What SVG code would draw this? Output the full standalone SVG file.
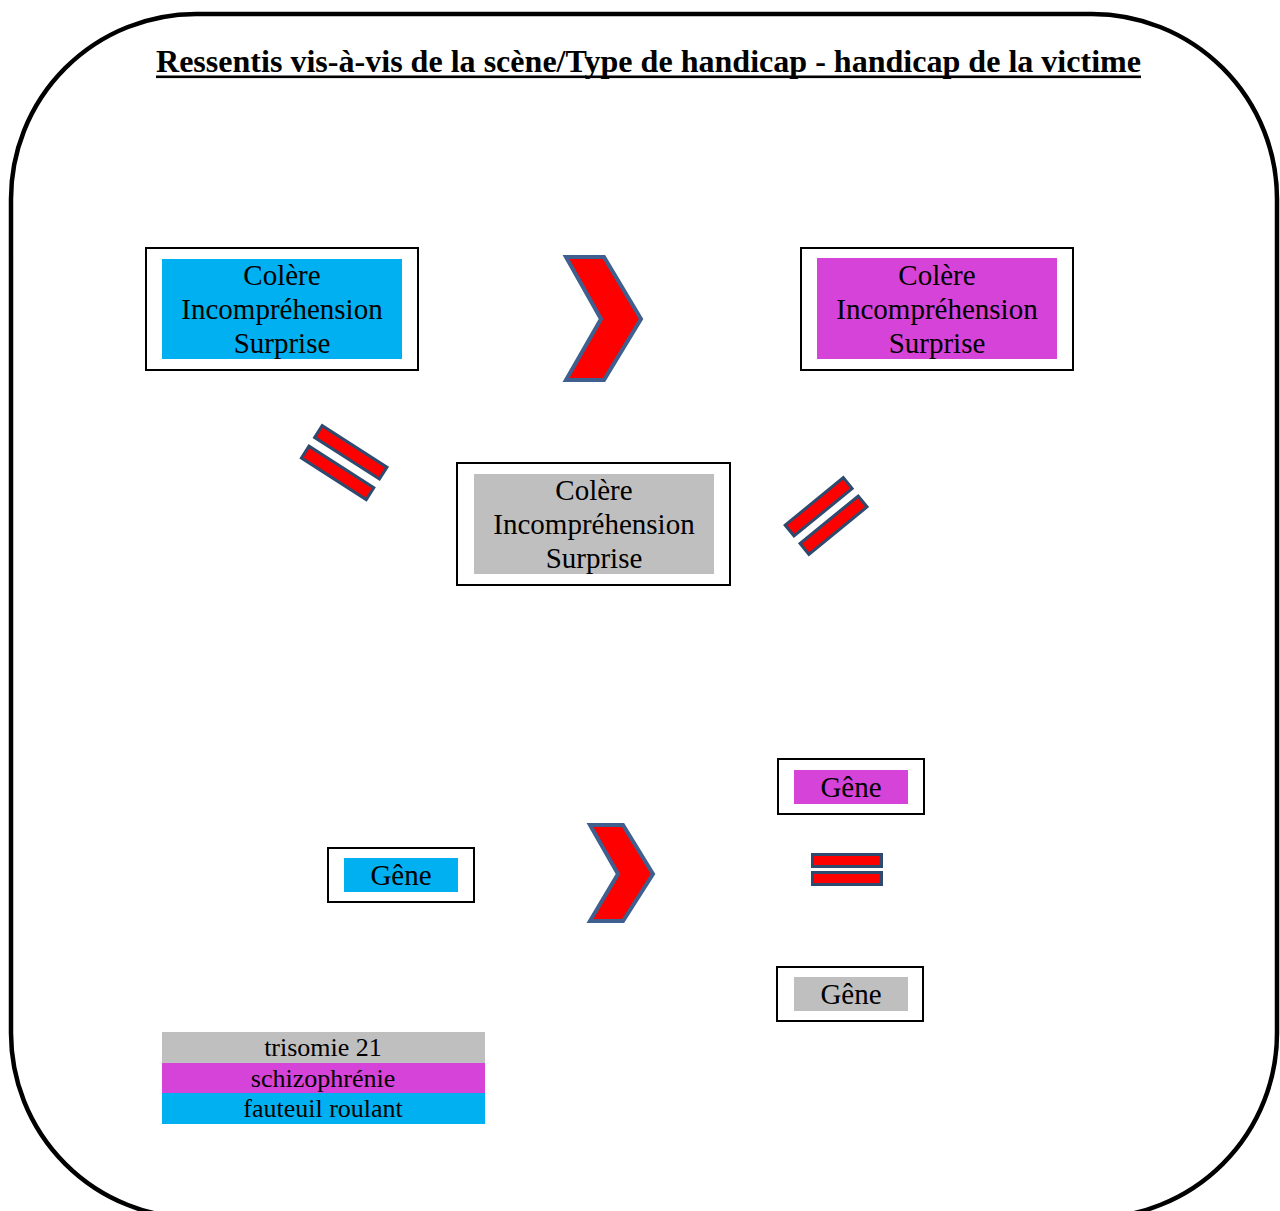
<svg xmlns="http://www.w3.org/2000/svg" width="1280" height="1211" viewBox="0 0 1280 1211">
<style>
text{font-family:"Liberation Serif","Times New Roman",Times,serif;fill:#000;text-anchor:middle}
.t{font-size:29px}
.l{font-size:26px}
.frame{fill:#fff;stroke:#000;stroke-width:2}
.cy{fill:#00B0F0}
.mg{fill:#D643D9}
.gr{fill:#BFBFBF}
.sym{fill:#FF0000;stroke:#3F5F8F;stroke-width:4;stroke-linejoin:miter}
.bar{fill:#FF0000;stroke:#2F4A6F;stroke-width:3}
</style>
<rect width="1280" height="1211" fill="#fff"/>
<rect x="11" y="14" width="1266" height="1204" rx="185" ry="185" fill="#fff" stroke="#000" stroke-width="4.5"/>
<g id="title">
<text x="648.5" y="72" style="font-size:32px;font-weight:bold" textLength="985" lengthAdjust="spacingAndGlyphs">Ressentis vis-à-vis de la scène/Type de handicap - handicap de la victime</text>
<rect x="156" y="75.5" width="985" height="2.6" fill="#000"/>
</g>
<g id="node-top-left">
<rect class="frame" x="146" y="248" width="272" height="122"/>
<rect class="cy" x="162" y="259" width="240" height="100"/>
<text class="t" x="282" y="285">Colère</text>
<text class="t" x="282" y="319">Incompréhension</text>
<text class="t" x="282" y="353">Surprise</text>
</g>
<g id="node-top-right">
<rect class="frame" x="801" y="248" width="272" height="122"/>
<rect class="mg" x="817" y="258" width="240" height="101"/>
<text class="t" x="937" y="285">Colère</text>
<text class="t" x="937" y="319">Incompréhension</text>
<text class="t" x="937" y="353">Surprise</text>
</g>
<g id="node-center">
<rect class="frame" x="457" y="463" width="273" height="122"/>
<rect class="gr" x="474" y="474" width="240" height="100"/>
<text class="t" x="594" y="500">Colère</text>
<text class="t" x="594" y="534">Incompréhension</text>
<text class="t" x="594" y="568">Surprise</text>
</g>
<g id="node-gene-left">
<rect class="frame" x="328" y="848" width="146" height="54"/>
<rect class="cy" x="344" y="858" width="114" height="34"/>
<text class="t" x="401" y="885">Gêne</text>
</g>
<g id="node-gene-top-right">
<rect class="frame" x="778" y="759" width="146" height="55"/>
<rect class="mg" x="794" y="770" width="114" height="34"/>
<text class="t" x="851" y="797">Gêne</text>
</g>
<g id="node-gene-bottom-right">
<rect class="frame" x="777" y="967" width="146" height="54"/>
<rect class="gr" x="794" y="977" width="114" height="34"/>
<text class="t" x="851" y="1004">Gêne</text>
</g>
<g id="legend">
<rect class="gr" x="162" y="1032" width="323" height="31"/>
<rect class="mg" x="162" y="1063" width="323" height="30"/>
<rect class="cy" x="162" y="1093" width="323" height="31"/>
<text class="l" x="323" y="1056">trisomie 21</text>
<text class="l" x="323" y="1087">schizophrénie</text>
<text class="l" x="323" y="1117">fauteuil roulant</text>
</g>
<g id="connectors">
<polygon class="sym" points="566,257 604,257 641,319 604,380 566,380 601,319"/>
<polygon class="sym" points="590,825 623,825 653,874 623,921 590,921 618,874"/>
<g transform="translate(344.2,462.6) rotate(32.7)">
<rect class="bar" x="-38.5" y="-19.2" width="77" height="14"/>
<rect class="bar" x="-38.5" y="5.2" width="77" height="14"/>
</g>
<g transform="translate(826.1,516) rotate(-39.2)">
<rect class="bar" x="-37.5" y="-18.8" width="75" height="14"/>
<rect class="bar" x="-37.5" y="4.8" width="75" height="14"/>
</g>
<rect class="bar" x="812.5" y="854.5" width="69" height="12"/>
<rect class="bar" x="812.5" y="872.5" width="69" height="12"/>
</g>
</svg>
